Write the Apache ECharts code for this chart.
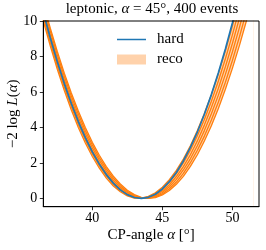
<!DOCTYPE html>
<html><head><meta charset="utf-8">
<script src="https://cdn.jsdelivr.net/npm/echarts@6/dist/echarts.min.js"></script>
<style>html,body{margin:0;padding:0;background:#fff}#c{width:266px;height:250px}</style>
</head><body><div id="c"></div>
<script>
const xGrid = [36,36.5,37,37.5,38,38.5,39,39.5,40,40.5,41,41.5,42,42.5,43,43.5,44,44.5,45,45.5,46,46.5,47,47.5,48,48.5,49,49.5,50,50.5,51,51.5];
const hard = [12.04,10.49,9.04,7.70,6.47,5.35,4.33,3.42,2.62,1.93,1.34,0.86,0.48,0.21,0.05,0,0.06,0.23,0.53,0.94,1.46,2.11,2.87,3.74,4.74,5.85,7.08,8.42,9.89,11.47,13.16,14.98];
const reco1 = [11.53,10.00,8.59,7.28,6.08,4.98,4.00,3.12,2.36,1.70,1.14,0.70,0.37,0.14,0.02,0.01,0.11,0.31,0.63,1.05,1.58,2.22,2.96,3.82,4.78,5.85,7.03,8.32,9.71,11.21,12.82,14.54];
const reco2 = [11.73,10.21,8.79,7.48,6.28,5.18,4.18,3.30,2.52,1.84,1.27,0.80,0.44,0.19,0.04,0.00,0.07,0.24,0.52,0.90,1.40,2.00,2.71,3.53,4.45,5.48,6.62,7.87,9.22,10.69,12.26,13.93];
const reco3 = [11.96,10.43,9.02,7.70,6.49,5.38,4.38,3.48,2.68,1.99,1.40,0.91,0.53,0.25,0.08,0.00,0.03,0.17,0.42,0.77,1.23,1.79,2.46,3.24,4.13,5.12,6.21,7.42,8.73,10.15,11.67,13.30];
const reco4 = [12.15,10.63,9.22,7.90,6.69,5.58,4.56,3.65,2.85,2.14,1.53,1.02,0.62,0.32,0.11,0.01,0.01,0.12,0.33,0.65,1.07,1.60,2.23,2.97,3.82,4.77,5.82,6.99,8.25,9.63,11.11,12.69];
const reco5 = [12.34,10.83,9.42,8.10,6.89,5.77,4.75,3.83,3.01,2.29,1.66,1.14,0.71,0.39,0.16,0.03,0.00,0.08,0.25,0.54,0.92,1.41,2.01,2.71,3.51,4.42,5.43,6.55,7.77,9.10,10.53,12.06];
const reco6 = [12.50,11.00,9.59,8.28,7.06,5.94,4.92,3.99,3.16,2.43,1.79,1.25,0.81,0.46,0.21,0.06,0.00,0.04,0.19,0.44,0.79,1.24,1.80,2.46,3.23,4.10,5.07,6.15,7.33,8.61,10.00,11.49];
const xTicks = [40,45,50];
const yTicks = [0,2,4,6,8,10];

const recoCurves = [reco1,reco2,reco3,reco4,reco5,reco6];
const lower = xGrid.map((x,i)=>Math.min(...recoCurves.map(c=>c[i])));
const upper = xGrid.map((x,i)=>Math.max(...recoCurves.map(c=>c[i])));
const pair = arr => xGrid.map((x,i)=>[x,arr[i]]);

const FF = 'Liberation Serif';
const BAND = 'rgba(255,127,14,0.35)';
const chart = echarts.init(document.getElementById('c'), null, {renderer:'canvas'});
const series = [
  {type:'line', name:'reco', data:pair(upper), symbol:'none', color:BAND,
    lineStyle:{opacity:0}, areaStyle:{color:BAND, opacity:1, origin:'start'}, silent:true, z:1},
  {type:'line', name:'recoLow', data:pair(lower), symbol:'none',
    lineStyle:{opacity:0}, areaStyle:{color:'#ffffff', opacity:1, origin:'start'}, silent:true, z:1}
];
recoCurves.forEach((c,k)=>series.push({type:'line', name:'recoLine'+k, data:pair(c), symbol:'none',
  lineStyle:{color:'#ff7f0e', width:1.3}, color:'#ff7f0e', silent:true, z:2}));
series.push({type:'line', name:'hard', data:pair(hard), symbol:'none', color:'#1f77b4',
  lineStyle:{color:'#1f77b4', width:1.7}, z:3});

const italic = {fontFamily:FF, fontSize:15, fontStyle:'italic', color:'#000'};
chart.setOption({
  animation:false,
  title:{text:'leptonic, {i|α} = 45°, 400 events', left:152, top:2, padding:0, textAlign:'center',
    textStyle:{fontFamily:FF, fontSize:15, fontWeight:'normal', color:'#000', rich:{i:italic}}},
  legend:{orient:'vertical', left:117, top:32, padding:0, itemWidth:29, itemHeight:10, itemGap:5,
    formatter: n => '{s|}' + n,
    textStyle:{fontFamily:FF, fontSize:15, color:'#000', rich:{s:{width:6}}},
    data:[{name:'hard', icon:'path://M0,0L58,0L58,3L0,3Z', itemStyle:{color:'#1f77b4'}},
          {name:'reco', icon:'rect', itemStyle:{color:BAND}}]},
  grid:{left:43.3, right:7, top:21, bottom:43.3, show:true, borderColor:'#000', borderWidth:1,
    backgroundColor:'transparent', z:10, outerBoundsMode:'none', containLabel:false},
  xAxis:{type:'value', min:36.5, max:51.9, z:10,
    name:'CP-angle {i|α} [°]', nameLocation:'middle', nameGap:21, nameMoveOverlap:false,
    nameTextStyle:{fontFamily:FF, fontSize:15, color:'#000', rich:{i:italic}},
    axisLine:{show:true, onZero:false, lineStyle:{color:'#000', width:1}},
    axisTick:{show:true, inside:false, length:3.5, lineStyle:{color:'#000', width:0.8}, customValues:xTicks},
    axisLabel:{fontFamily:FF, fontSize:14, color:'#000', margin:5, customValues:xTicks},
    splitLine:{show:false}},
  yAxis:{type:'value', min:-0.47, max:10, z:10,
    name:'−2 log {i|L}({i|α})', nameLocation:'middle', nameGap:23, nameMoveOverlap:false,
    nameTextStyle:{fontFamily:FF, fontSize:15, color:'#000', rich:{i:italic}},
    axisLine:{show:true, onZero:false, lineStyle:{color:'#000', width:1}},
    axisTick:{show:true, inside:false, length:3.5, lineStyle:{color:'#000', width:0.8}, customValues:yTicks},
    axisLabel:{fontFamily:FF, fontSize:14, color:'#000', margin:6, customValues:yTicks},
    splitLine:{show:false}},
  series:series
});
</script></body></html>
